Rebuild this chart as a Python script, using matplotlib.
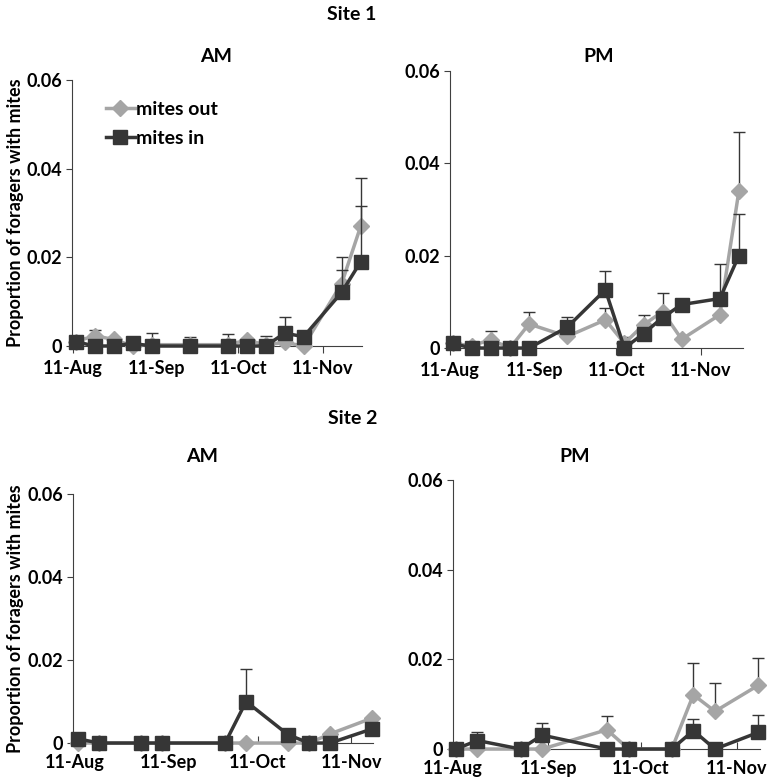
import matplotlib.pyplot as plt
import numpy as np

plt.rcParams['font.family'] = ['Lato', 'DejaVu Sans']
plt.rcParams['font.weight'] = 'bold'

# sampling days, counted from 11 Aug
days_s1 = [1, 8, 15, 22, 29, 43, 57, 64, 71, 78, 85, 99, 106]
days_s2 = [1, 8, 22, 29, 50, 57, 71, 78, 85, 99]

# Site 1 AM
s1am_out = [0.001, 0.0023, 0.0015, 0.0, 0.0003, 0.0003, 0.0003, 0.0013, 0.0003, 0.0008, 0.0, 0.0141, 0.027]
s1am_out_err = [0.0, 0.0013, 0.0005, 0.0, 0.0027, 0.0017, 0.0024, 0.0005, 0.0019, 0.0, 0.0, 0.0059, 0.0108]
s1am_in = [0.001, 0.0, 0.0, 0.0006, 0.0, 0.0, 0.0, 0.0, 0.0, 0.0029, 0.0021, 0.0121, 0.019]
s1am_in_err = [0.0, 0.0, 0.0, 0.0, 0.0, 0.0, 0.0, 0.0, 0.0, 0.0037, 0.0, 0.005, 0.0126]

# Site 1 PM
s1pm_out = [0.001, 0.0005, 0.0018, 0.0, 0.0052, 0.0025, 0.0061, 0.001, 0.005, 0.0079, 0.0019, 0.0072, 0.034]
s1pm_out_err = [0.0, 0.0, 0.0018, 0.0, 0.0027, 0.0, 0.0025, 0.0013, 0.0021, 0.004, 0.0, 0.0, 0.0128]
s1pm_in = [0.001, 0.0, 0.0, 0.0, 0.0, 0.0045, 0.0126, 0.0, 0.0031, 0.0066, 0.0094, 0.0107, 0.020]
s1pm_in_err = [0.0, 0.0, 0.0, 0.0, 0.0, 0.0022, 0.0041, 0.0, 0.0, 0.0, 0.0, 0.0075, 0.009]

# Site 2 AM
s2am_out = [0.0, 0.0, 0.0, 0.0, 0.0, 0.0, 0.0, 0.0, 0.0022, 0.006]
s2am_out_err = [0.0] * 10
s2am_in = [0.001, 0.0, 0.0, 0.0, 0.0, 0.010, 0.002, 0.0, 0.0, 0.0034]
s2am_in_err = [0.0, 0.0, 0.0, 0.0, 0.0, 0.0078, 0.001, 0.0, 0.0, 0.0]

# Site 2 PM
s2pm_out = [0.0, 0.0, 0.0, 0.0, 0.0043, 0.0, 0.0, 0.0121, 0.0084, 0.0142]
s2pm_out_err = [0.0, 0.0, 0.0, 0.0, 0.0031, 0.0, 0.0, 0.0071, 0.0063, 0.0062]
s2pm_in = [0.0, 0.0019, 0.0, 0.0031, 0.0, 0.0, 0.0, 0.0041, 0.0, 0.0037]
s2pm_in_err = [0.0, 0.0018, 0.0, 0.0028, 0.0, 0.0, 0.0, 0.0027, 0.0, 0.0039]

tick_days = [0, 31, 61, 92]
tick_labels = ['11-Aug', '11-Sep', '11-Oct', '11-Nov']

GREY = '#a5a5a5'
DARK = '#363636'
FS = 13

fig = plt.figure(figsize=(7.67, 7.80), dpi=100)

panels = [
    # rect, days, out, out_err, in, in_err, xlim, tick dir, label pad
    ([0.0939, 0.5564, 0.3781, 0.3410], days_s1, s1am_out, s1am_out_err, s1am_in, s1am_in_err, (-0.3, 106.5), 'out', 5),
    ([0.5867, 0.5538, 0.3820, 0.3556], days_s1, s1pm_out, s1pm_out_err, s1pm_in, s1pm_in_err, (0.4, 107.5), 'out', 5),
    ([0.0948, 0.0474, 0.3915, 0.3193], days_s2, s2am_out, s2am_out_err, s2am_in, s2am_in_err, (-0.8, 99.3), 'in', 8),
    ([0.5902, 0.0397, 0.4007, 0.3449], days_s2, s2pm_out, s2pm_out_err, s2pm_in, s2pm_in_err, (0.3, 99.6), 'in', 8),
]

axes = []
for rect, d, out, out_err, m_in, in_err, xl, tdir, xpad in panels:
    ax = fig.add_axes(rect)
    ax.errorbar(d, out, yerr=[np.zeros(len(out)), out_err], fmt='none',
                ecolor=DARK, elinewidth=1, capsize=4, capthick=1, clip_on=False)
    ax.plot(d, out, color=GREY, lw=2.5, marker='D', ms=8, mec=GREY, mfc=GREY,
            label='mites out', clip_on=False, zorder=3)
    ax.errorbar(d, m_in, yerr=[np.zeros(len(m_in)), in_err], fmt='none',
                ecolor=DARK, elinewidth=1, capsize=4, capthick=1, clip_on=False, zorder=4)
    ax.plot(d, m_in, color=DARK, lw=2.5, marker='s', ms=9.5, mec=DARK, mfc=DARK,
            label='mites in', clip_on=False, zorder=5)
    ax.set_xlim(*xl)
    ax.set_ylim(0, 0.06)
    ax.set_yticks([0, 0.02, 0.04, 0.06])
    ax.set_yticklabels(['0', '0.02', '0.04', '0.06'])
    ax.set_xticks(tick_days)
    ax.set_xticklabels(tick_labels)
    ax.spines['top'].set_visible(False)
    ax.spines['right'].set_visible(False)
    ax.spines['left'].set_color('#404040')
    ax.spines['bottom'].set_color('#404040')
    ax.tick_params(axis='y', labelsize=FS, length=4, color='#404040', pad=3)
    ax.tick_params(axis='x', labelsize=FS, length=5, direction=tdir, color='#404040', pad=xpad)
    axes.append(ax)

axes[0].set_ylabel('Proportion of foragers with mites', fontsize=13, fontweight='bold', labelpad=2)
axes[2].set_ylabel('Proportion of foragers with mites', fontsize=13, fontweight='bold', labelpad=2)
axes[0].legend(loc='upper left', bbox_to_anchor=(0.09, 0.95), frameon=False, fontsize=14,
               handlelength=1.5, handletextpad=0.05, labelspacing=0.6, borderaxespad=0)

fig.text(352 / 767, 1 - 14 / 780, 'Site 1', ha='center', va='center', fontsize=14, fontweight='bold')
fig.text(216 / 767, 1 - 57 / 780, 'AM', ha='center', va='center', fontsize=14, fontweight='bold')
fig.text(599 / 767, 1 - 57 / 780, 'PM', ha='center', va='center', fontsize=14, fontweight='bold')
fig.text(353 / 767, 1 - 419 / 780, 'Site 2', ha='center', va='center', fontsize=14, fontweight='bold')
fig.text(202 / 767, 1 - 457 / 780, 'AM', ha='center', va='center', fontsize=14, fontweight='bold')
fig.text(575 / 767, 1 - 457 / 780, 'PM', ha='center', va='center', fontsize=14, fontweight='bold')

fig.savefig('out.png', dpi=100)
